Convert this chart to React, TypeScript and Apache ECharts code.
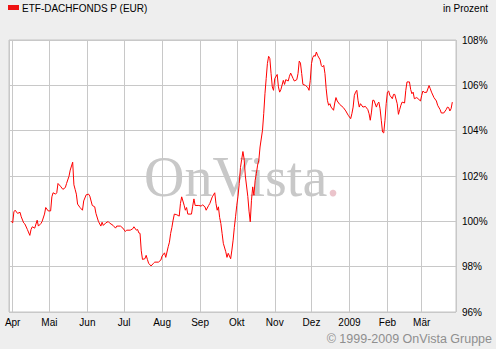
import React, { useEffect, useRef } from "react";
import * as echarts from "echarts";

const seriesName = "ETF-DACHFONDS P (EUR)";
const unitLabel = "in Prozent";
const copyright = "© 1999-2009 OnVista Gruppe";
const monthLabels = ["2009", "Feb", "Mär", "Apr", "Mai", "Jun", "Jul", "Aug", "Sep", "Okt", "Nov", "Dez"];
const axisStart = "2008-03-29";
const axisEnd = "2009-03-29";

const dates = [
  "2008-03-31", "2008-04-01", "2008-04-02", "2008-04-03", "2008-04-05", "2008-04-07", "2008-04-08", "2008-04-10",
  "2008-04-11", "2008-04-13", "2008-04-15", "2008-04-16", "2008-04-17", "2008-04-19", "2008-04-21", "2008-04-22",
  "2008-04-24", "2008-04-25", "2008-04-27", "2008-04-28", "2008-04-30", "2008-05-02", "2008-05-03", "2008-05-04",
  "2008-05-06", "2008-05-07", "2008-05-08", "2008-05-10", "2008-05-12", "2008-05-14", "2008-05-15", "2008-05-17",
  "2008-05-18", "2008-05-20", "2008-05-21", "2008-05-22", "2008-05-23", "2008-05-24", "2008-05-26", "2008-05-28",
  "2008-05-29", "2008-05-31", "2008-06-02", "2008-06-03", "2008-06-05", "2008-06-07", "2008-06-08", "2008-06-10",
  "2008-06-12", "2008-06-13", "2008-06-14", "2008-06-16", "2008-06-18", "2008-06-19", "2008-06-22", "2008-06-24",
  "2008-06-25", "2008-06-28", "2008-06-30", "2008-07-02", "2008-07-03", "2008-07-06", "2008-07-08", "2008-07-09",
  "2008-07-11", "2008-07-12", "2008-07-13", "2008-07-14", "2008-07-15", "2008-07-16", "2008-07-18", "2008-07-19",
  "2008-07-20", "2008-07-21", "2008-07-23", "2008-07-25", "2008-07-26", "2008-07-29", "2008-07-31", "2008-08-01",
  "2008-08-03", "2008-08-04", "2008-08-06", "2008-08-07", "2008-08-08", "2008-08-09", "2008-08-10", "2008-08-11",
  "2008-08-13", "2008-08-15", "2008-08-16", "2008-08-17", "2008-08-19", "2008-08-20", "2008-08-21", "2008-08-22",
  "2008-08-25", "2008-08-26", "2008-08-27", "2008-08-28", "2008-08-31", "2008-09-02", "2008-09-03", "2008-09-05",
  "2008-09-06", "2008-09-08", "2008-09-09", "2008-09-11", "2008-09-13", "2008-09-14", "2008-09-15", "2008-09-16",
  "2008-09-17", "2008-09-18", "2008-09-19", "2008-09-20", "2008-09-22", "2008-09-23", "2008-09-24", "2008-09-26",
  "2008-09-27", "2008-09-28", "2008-09-29", "2008-09-30", "2008-10-01", "2008-10-02", "2008-10-03", "2008-10-04",
  "2008-10-05", "2008-10-06", "2008-10-07", "2008-10-08", "2008-10-10", "2008-10-11", "2008-10-12", "2008-10-13",
  "2008-10-14", "2008-10-15", "2008-10-16", "2008-10-17", "2008-10-18", "2008-10-19", "2008-10-20", "2008-10-22",
  "2008-10-23", "2008-10-24", "2008-10-25", "2008-10-26", "2008-10-27", "2008-10-28", "2008-10-29", "2008-10-30",
  "2008-10-31", "2008-11-01", "2008-11-03", "2008-11-04", "2008-11-05", "2008-11-06", "2008-11-08", "2008-11-09",
  "2008-11-10", "2008-11-12", "2008-11-13", "2008-11-14", "2008-11-16", "2008-11-17", "2008-11-19", "2008-11-20",
  "2008-11-21", "2008-11-22", "2008-11-23", "2008-11-24", "2008-11-26", "2008-11-28", "2008-11-29", "2008-11-30",
  "2008-12-01", "2008-12-02", "2008-12-03", "2008-12-04", "2008-12-05", "2008-12-06", "2008-12-08", "2008-12-09",
  "2008-12-10", "2008-12-11", "2008-12-12", "2008-12-13", "2008-12-14", "2008-12-15", "2008-12-16", "2008-12-17",
  "2008-12-19", "2008-12-20", "2008-12-21", "2008-12-22", "2008-12-24", "2008-12-27", "2008-12-29", "2008-12-31",
  "2009-01-02", "2009-01-03", "2009-01-04", "2009-01-05", "2009-01-06", "2009-01-07", "2009-01-08", "2009-01-09",
  "2009-01-10", "2009-01-12", "2009-01-14", "2009-01-16", "2009-01-17", "2009-01-18", "2009-01-19", "2009-01-20",
  "2009-01-21", "2009-01-23", "2009-01-24", "2009-01-25", "2009-01-26", "2009-01-27", "2009-01-28", "2009-01-29",
  "2009-01-30", "2009-01-31", "2009-02-01", "2009-02-02", "2009-02-03", "2009-02-05", "2009-02-06", "2009-02-07",
  "2009-02-09", "2009-02-10", "2009-02-11", "2009-02-12", "2009-02-13", "2009-02-15", "2009-02-16", "2009-02-17",
  "2009-02-19", "2009-02-20", "2009-02-21", "2009-02-22", "2009-02-23", "2009-02-25", "2009-02-26", "2009-02-28",
  "2009-03-01", "2009-03-02", "2009-03-03", "2009-03-05", "2009-03-07", "2009-03-08", "2009-03-09", "2009-03-11",
  "2009-03-13", "2009-03-14", "2009-03-16", "2009-03-17", "2009-03-19", "2009-03-21", "2009-03-22", "2009-03-23",
  "2009-03-24", "2009-03-25", "2009-03-26",
];

const values = [
  100.0, 99.93, 100.42, 100.49, 100.35, 100.4, 100.2, 99.93,
  99.88, 99.64, 99.38, 99.64, 99.76, 99.7, 100.05, 99.79,
  99.9, 99.99, 100.32, 100.61, 100.46, 100.46, 101.08, 101.26,
  101.2, 101.26, 101.67, 101.55, 101.41, 101.49, 101.67, 101.99,
  102.26, 102.61, 101.61, 101.41, 101.2, 100.76, 100.61, 100.49,
  100.9, 101.17, 101.2, 101.11, 100.7, 100.64, 100.35, 100.0,
  99.79, 99.96, 99.82, 99.93, 99.99, 99.93, 99.82, 99.7,
  99.79, 99.79, 99.7, 99.55, 99.61, 99.61, 99.67, 99.76,
  99.61, 99.64, 99.49, 99.47, 98.7, 98.32, 98.35, 98.5,
  98.32, 98.15, 98.03, 98.15, 98.2, 98.2, 98.29, 98.47,
  98.61, 98.41, 98.88, 99.08, 99.47, 99.73, 100.05, 100.32,
  100.29, 100.23, 100.79, 101.08, 100.71, 100.49, 100.61, 100.32,
  100.32, 100.67, 100.99, 100.7, 100.7, 100.67, 100.73, 100.64,
  100.49, 100.7, 100.79, 101.08, 101.26, 100.79, 100.49, 100.64,
  100.17, 99.9, 99.47, 99.03, 98.66, 98.41, 98.59, 98.35,
  98.73, 99.17, 99.73, 100.2, 100.71, 101.11, 101.67, 102.37,
  102.73, 103.08, 102.75, 102.0, 101.1, 100.45, 99.98, 100.93,
  101.52, 101.15, 101.81, 102.11, 102.48, 102.7, 103.28, 104.02,
  104.75, 105.63, 106.3, 106.96, 107.28, 107.18, 106.52, 105.93,
  105.78, 106.3, 106.48, 105.93, 105.7, 105.81, 106.22, 106.04,
  106.25, 106.19, 106.4, 106.54, 106.3, 106.19, 106.25, 106.52,
  107.07, 106.98, 106.52, 106.04, 106.0, 105.9, 105.78, 106.22,
  106.96, 107.22, 107.32, 107.28, 107.47, 107.32, 107.13, 106.88,
  106.81, 106.88, 106.52, 105.85, 105.34, 105.12, 105.19, 105.04,
  104.9, 105.22, 105.46, 105.31, 105.16, 105.02, 104.87, 104.68,
  104.53, 104.75, 105.04, 105.56, 105.7, 105.78, 105.34, 105.04,
  105.19, 105.04, 105.07, 104.93, 104.75, 104.46, 104.82, 105.34,
  105.34, 105.04, 105.19, 105.26, 104.97, 104.46, 103.94, 103.9,
  104.46, 105.19, 105.7, 105.75, 105.56, 105.41, 105.6, 105.6,
  105.19, 104.72, 104.93, 105.12, 105.26, 105.22, 105.78, 106.15,
  106.15, 105.81, 105.63, 105.7, 105.41, 105.46, 105.41, 105.31,
  105.56, 105.75, 105.69, 105.69, 105.99, 105.85, 105.7, 105.46,
  105.31, 105.12, 104.93, 104.78, 104.78, 104.93, 105.04, 105.02,
  104.87, 104.97, 105.26,
];

const yMin = 96;
const yMax = 108;
const yStep = 2;

function toTime(s: string): number {
  const [y, m, d] = s.split("-").map(Number);
  return new Date(y, m - 1, d).getTime();
}

export default function App() {
  const ref = useRef<HTMLDivElement>(null);
  useEffect(() => {
    if (!ref.current) return;
    const chart = echarts.init(ref.current, undefined, { renderer: "svg" });
    const data = dates.map((d, i) => [toTime(d), values[i]]);
    chart.setOption({
      animation: false,
      backgroundColor: "#eeeeee",
      grid: {
        left: 9,
        right: 40,
        top: 40,
        bottom: 37,
        show: true,
        backgroundColor: "#ffffff",
        borderColor: "#c4c4c4",
        borderWidth: 1,
        outerBoundsMode: "none",
        containLabel: false,
      },
      xAxis: {
        type: "time",
        min: toTime(axisStart),
        max: toTime(axisEnd),
        splitNumber: 12,
        axisLine: { show: false },
        axisTick: { show: false },
        axisLabel: {
          color: "#000",
          fontSize: 10,
          fontFamily: "Liberation Sans, Arial, sans-serif",
          margin: 5,
          showMinLabel: false,
          showMaxLabel: false,
          formatter: (v: number) => monthLabels[new Date(v).getMonth()],
        },
        splitLine: { show: true, lineStyle: { color: "#c8c8c8", width: 1 } },
      },
      yAxis: {
        type: "value",
        position: "right",
        min: yMin,
        max: yMax,
        interval: yStep,
        axisLine: { show: false },
        axisTick: { show: false },
        axisLabel: {
          color: "#000",
          fontSize: 10,
          fontFamily: "Liberation Sans, Arial, sans-serif",
          margin: 6,
          formatter: "{value}%",
        },
        splitLine: { show: true, lineStyle: { color: "#c8c8c8", width: 1 } },
      },
      graphic: [
        {
          type: "text",
          z: 1,
          silent: true,
          style: {
            x: 144,
            y: 177,
            text: "OnVista",
            fill: "#c8c8c8",
            font: "56px 'Liberation Serif', 'Times New Roman', serif",
            verticalAlign: "middle",
          },
        },
        {
          type: "text",
          z: 1,
          silent: true,
          style: {
            x: 326,
            y: 177,
            text: ".",
            fill: "#ebc4cb",
            font: "56px 'Liberation Serif', 'Times New Roman', serif",
            verticalAlign: "middle",
          },
        },
        {
          type: "rect",
          shape: { x: 8, y: 5, width: 11, height: 5 },
          style: { fill: "#ee1111" },
        },
        {
          type: "text",
          style: {
            x: 22,
            y: 8,
            text: seriesName,
            fill: "#000",
            font: "10px 'Liberation Sans', Arial, sans-serif",
            verticalAlign: "middle",
          },
        },
        {
          type: "text",
          style: {
            x: 488,
            y: 8,
            text: unitLabel,
            fill: "#000",
            font: "10px 'Liberation Sans', Arial, sans-serif",
            align: "right",
            verticalAlign: "middle",
          },
        },
        {
          type: "text",
          style: {
            x: 492,
            y: 339,
            text: copyright,
            fill: "#8f8f8f",
            font: "12.5px 'Liberation Sans', Arial, sans-serif",
            align: "right",
            verticalAlign: "middle",
          },
        },
      ],
      series: [
        {
          name: seriesName,
          type: "line",
          data,
          showSymbol: false,
          symbol: "none",
          z: 3,
          lineStyle: { color: "#ff0000", width: 1 },
        },
      ],
    });
    return () => chart.dispose();
  }, []);
  return (
    <div
      ref={ref}
      style={{ position: "absolute", left: 0, top: 0, width: 496, height: 349 }}
    />
  );
}
